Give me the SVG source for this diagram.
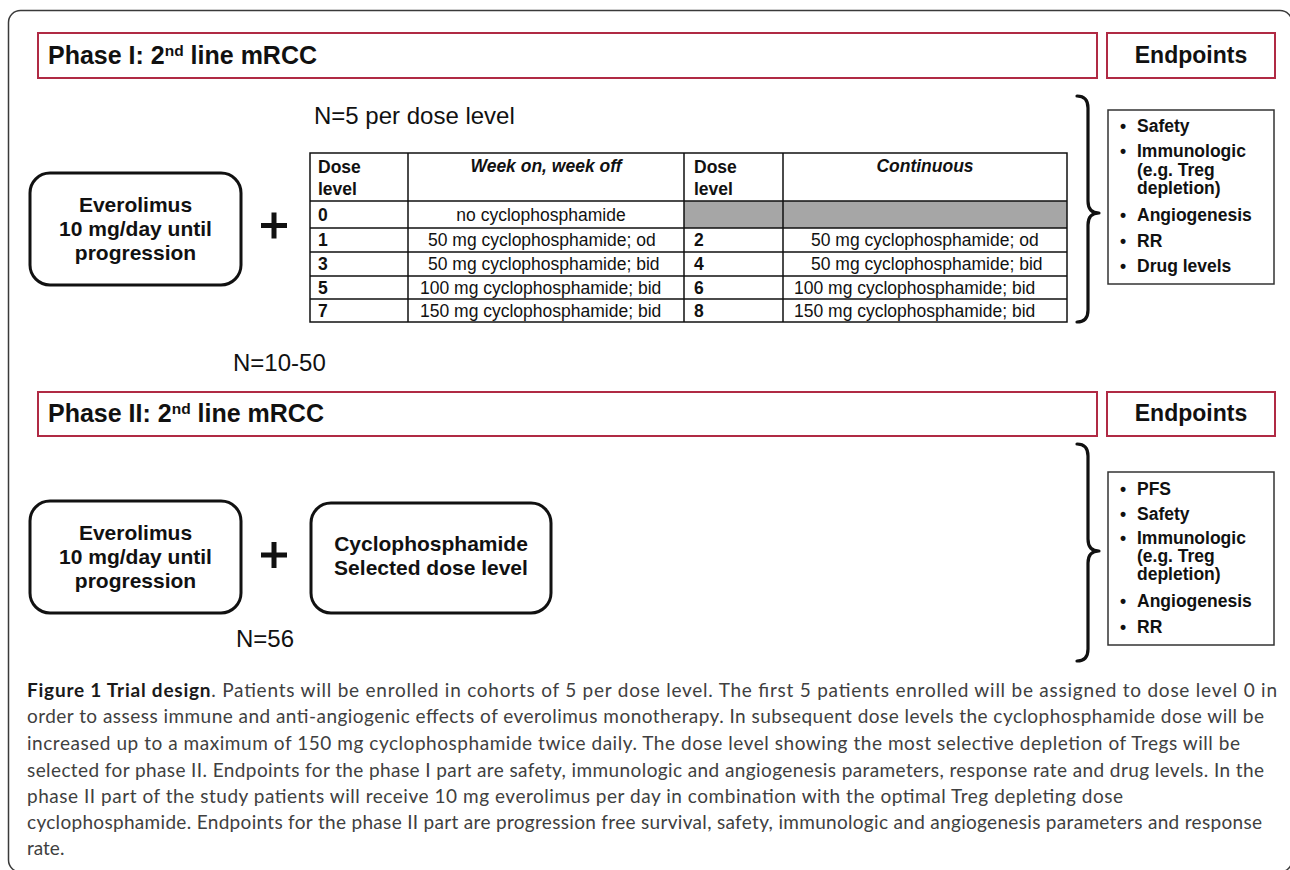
<svg xmlns="http://www.w3.org/2000/svg" width="1290" height="870" viewBox="0 0 1290 870">
<style>
 .frame{fill:none;stroke:#3a3a3a;stroke-width:1.5}
 .hdr{fill:#fff;stroke:#b02a44;stroke-width:2}
 .htxt{font-family:"Liberation Sans",Arial,sans-serif;font-weight:bold;font-size:25px;fill:#111}
 .etitle{font-family:"Liberation Sans",Arial,sans-serif;font-weight:bold;font-size:23px;fill:#111;text-anchor:middle}
 .ntxt{font-family:"Liberation Sans",Arial,sans-serif;font-size:24px;fill:#111}
 .box{fill:#fff;stroke:#111;stroke-width:3}
 .btxt{font-family:"Liberation Sans",Arial,sans-serif;font-weight:bold;font-size:21px;fill:#111;text-anchor:middle}
 .plus{fill:#111}
 .tbl{fill:none;stroke:#111;stroke-width:1.5}
 .gray{fill:#a6a6a6}
 .ttxt{font-family:"Liberation Sans",Arial,sans-serif;font-size:17.5px;fill:#111}
 .tb{font-weight:bold}
 .ti{font-weight:bold;font-style:italic;text-anchor:middle}
 .ep{fill:#fff;stroke:#333;stroke-width:1.5}
 .etxt{font-family:"Liberation Sans",Arial,sans-serif;font-weight:bold;font-size:17.5px;fill:#111}
 .brace{fill:none;stroke:#111;stroke-width:3.2;stroke-linecap:round;stroke-linejoin:round}
 .cap{font-family:Lato,"Open Sans",sans-serif;font-size:19px;fill:#404040}
 .capb{font-weight:bold;fill:#1a1a1a}
</style>

<rect class="frame" x="8.5" y="10.5" width="1283.5" height="861.5" rx="12"/>

<g id="phase1-header">
 <rect class="hdr" x="38" y="33" width="1059" height="45"/>
 <text class="htxt" x="48" y="64">Phase I: 2<tspan dy="-8" font-size="15.5">nd</tspan><tspan dy="8"> line mRCC</tspan></text>
</g>
<g id="phase1-endpoints-header">
 <rect class="hdr" x="1107" y="33" width="168" height="45"/>
 <text class="etitle" x="1191" y="63">Endpoints</text>
</g>

<g id="n5-label"><text class="ntxt" x="314" y="124">N=5 per dose level</text></g>

<g id="everolimus1">
 <rect class="box" x="30" y="173" width="211" height="112" rx="20"/>
 <text class="btxt" x="135.5" y="212">Everolimus</text>
 <text class="btxt" x="135.5" y="236">10 mg/day until</text>
 <text class="btxt" x="135.5" y="260">progression</text>
</g>

<g id="plus1">
 <rect class="plus" x="261" y="223" width="26" height="5"/>
 <rect class="plus" x="271.5" y="212.5" width="5" height="26"/>
</g>

<g id="dose-table">
 <rect class="gray" x="684" y="201" width="383" height="27"/>
 <rect class="tbl" x="310" y="153" width="757" height="169"/>
 <path class="tbl" d="M310,201H1067M310,228H1067M310,252H1067M310,276H1067M310,299H1067M408,153V322M684,153V322M783,153V322"/>
 <g class="ttxt">
  <text class="tb" x="318" y="173">Dose</text>
  <text class="tb" x="318" y="195">level</text>
  <text class="ti" x="546" y="172">Week on, week off</text>
  <text class="tb" x="694" y="173">Dose</text>
  <text class="tb" x="694" y="195">level</text>
  <text class="ti" x="925" y="172">Continuous</text>
  <text class="tb" x="318" y="221">0</text>
  <text x="541" y="221" text-anchor="middle">no cyclophosphamide</text>
  <text class="tb" x="318" y="246">1</text>
  <text x="428" y="246">50 mg cyclophosphamide; od</text>
  <text class="tb" x="694" y="246">2</text>
  <text x="811" y="246">50 mg cyclophosphamide; od</text>
  <text class="tb" x="318" y="270">3</text>
  <text x="428" y="270">50 mg cyclophosphamide; bid</text>
  <text class="tb" x="694" y="270">4</text>
  <text x="811" y="270">50 mg cyclophosphamide; bid</text>
  <text class="tb" x="318" y="294">5</text>
  <text x="420" y="294">100 mg cyclophosphamide; bid</text>
  <text class="tb" x="694" y="294">6</text>
  <text x="794" y="294">100 mg cyclophosphamide; bid</text>
  <text class="tb" x="318" y="317">7</text>
  <text x="420" y="317">150 mg cyclophosphamide; bid</text>
  <text class="tb" x="694" y="317">8</text>
  <text x="794" y="317">150 mg cyclophosphamide; bid</text>
 </g>
</g>

<g id="phase1-endpoints">
 <rect class="ep" x="1108" y="110" width="166" height="174"/>
 <g class="etxt">
  <text x="1120" y="132">•</text><text x="1137" y="132">Safety</text>
  <text x="1120" y="157">•</text><text x="1137" y="157">Immunologic</text>
  <text x="1137" y="175.5">(e.g. Treg</text>
  <text x="1137" y="194">depletion)</text>
  <text x="1120" y="221">•</text><text x="1137" y="221">Angiogenesis</text>
  <text x="1120" y="247">•</text><text x="1137" y="247">RR</text>
  <text x="1120" y="272">•</text><text x="1137" y="272">Drug levels</text>
 </g>
</g>

<g id="n1050-label"><text class="ntxt" x="233" y="371">N=10-50</text></g>

<g id="phase2-header">
 <rect class="hdr" x="38" y="392" width="1059" height="44"/>
 <text class="htxt" x="48" y="422">Phase II: 2<tspan dy="-8" font-size="15.5">nd</tspan><tspan dy="8"> line mRCC</tspan></text>
</g>
<g id="phase2-endpoints-header">
 <rect class="hdr" x="1107" y="392" width="168" height="44"/>
 <text class="etitle" x="1191" y="421">Endpoints</text>
</g>

<g id="everolimus2">
 <rect class="box" x="30" y="501" width="211" height="112" rx="20"/>
 <text class="btxt" x="135.5" y="540">Everolimus</text>
 <text class="btxt" x="135.5" y="564">10 mg/day until</text>
 <text class="btxt" x="135.5" y="588">progression</text>
</g>

<g id="plus2">
 <rect class="plus" x="261" y="552.5" width="26" height="5"/>
 <rect class="plus" x="271.5" y="542" width="5" height="26"/>
</g>

<g id="cyclophosphamide2">
 <rect class="box" x="311" y="503" width="240" height="110" rx="20"/>
 <text class="btxt" x="431" y="551">Cyclophosphamide</text>
 <text class="btxt" x="431" y="575">Selected dose level</text>
</g>

<g id="n56-label"><text class="ntxt" x="236" y="647">N=56</text></g>

<g id="phase2-endpoints">
 <rect class="ep" x="1108" y="472" width="166" height="173"/>
 <g class="etxt">
  <text x="1120" y="495">•</text><text x="1137" y="495">PFS</text>
  <text x="1120" y="520">•</text><text x="1137" y="520">Safety</text>
  <text x="1120" y="544">•</text><text x="1137" y="544">Immunologic</text>
  <text x="1137" y="562">(e.g. Treg</text>
  <text x="1137" y="580">depletion)</text>
  <text x="1120" y="607">•</text><text x="1137" y="607">Angiogenesis</text>
  <text x="1120" y="633">•</text><text x="1137" y="633">RR</text>
 </g>
</g>

<g id="connectors">
 <path class="brace" d="M1077,96 Q1088,96 1088,108 L1088,201 Q1088,213 1099,213 Q1088,213 1088,225 L1088,310 Q1088,322 1077,322"/>
 <path class="brace" d="M1077,444 Q1088,444 1088,456 L1088,539 Q1088,551 1099,551 Q1088,551 1088,563 L1088,649 Q1088,661 1077,661"/>
</g>

<g id="caption" class="cap">
 <text x="27" y="697" textLength="1250" lengthAdjust="spacing"><tspan class="capb">Figure 1 Trial design</tspan>. Patients will be enrolled in cohorts of 5 per dose level. The first 5 patients enrolled will be assigned to dose level 0 in</text>
 <text x="27" y="723" textLength="1237" lengthAdjust="spacing">order to assess immune and anti-angiogenic effects of everolimus monotherapy. In subsequent dose levels the cyclophosphamide dose will be</text>
 <text x="27" y="750" textLength="1213" lengthAdjust="spacing">increased up to a maximum of 150 mg cyclophosphamide twice daily. The dose level showing the most selective depletion of Tregs will be</text>
 <text x="27" y="777" textLength="1237" lengthAdjust="spacing">selected for phase II. Endpoints for the phase I part are safety, immunologic and angiogenesis parameters, response rate and drug levels. In the</text>
 <text x="27" y="803" textLength="1096" lengthAdjust="spacing">phase II part of the study patients will receive 10 mg everolimus per day in combination with the optimal Treg depleting dose</text>
 <text x="27" y="829" textLength="1235" lengthAdjust="spacing">cyclophosphamide. Endpoints for the phase II part are progression free survival, safety, immunologic and angiogenesis parameters and response</text>
 <text x="27" y="855">rate.</text>
</g>
</svg>
